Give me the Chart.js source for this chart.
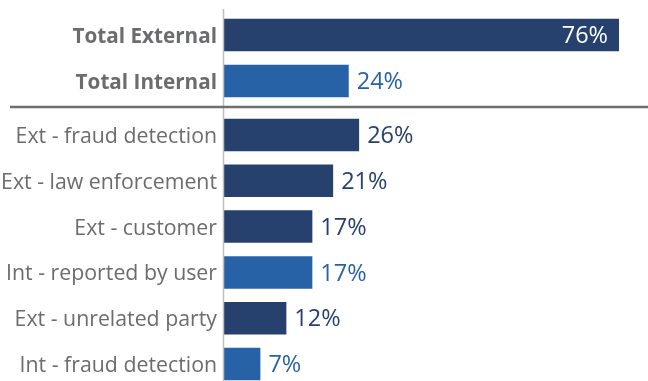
<!DOCTYPE html>
<html>
<head>
<meta charset="utf-8">
<script src="https://cdn.jsdelivr.net/npm/chart.js@4/dist/chart.umd.min.js"></script>
<style>
  html, body { margin: 0; padding: 0; background: #ffffff; overflow: hidden; }
  body { width: 648px; height: 381px; position: relative; }
  #topBox { position: absolute; left: 0; top: 0; width: 648px; height: 112px; }
  #botBox { position: absolute; left: 0; top: 112px; width: 648px; height: 275px; }
</style>
</head>
<body>
<div id="topBox"><canvas id="topChart"></canvas></div>
<div id="botBox"><canvas id="botChart"></canvas></div>
<script>
// ---- Data ----
const totalCategories = ['Total External', 'Total Internal'];
const totalValues = [76, 24];
const totalGroups = ['Ext', 'Int'];

const detailCategories = [
  'Ext - fraud detection',
  'Ext - law enforcement',
  'Ext - customer',
  'Int - reported by user',
  'Ext - unrelated party',
  'Int - fraud detection'
];
const detailValues = [26, 21, 17, 17, 12, 7];
const detailGroups = ['Ext', 'Ext', 'Ext', 'Int', 'Ext', 'Int'];

const axisMax = 80;

// ---- Styles ----
const groupColors = { Ext: '#26416D', Int: '#2762A7' };
const labelColor = '#6B6C6E';
const fontFamily = '"Open Sans", "Noto Sans", sans-serif';

const decorPlugin = {
  id: 'decor',
  afterDraw(chart, args, opts) {
    const ctx = chart.ctx;
    const x = chart.chartArea.left - 0.5;
    ctx.save();
    ctx.strokeStyle = '#BFBFBF';
    ctx.lineWidth = 1.5;
    ctx.beginPath();
    ctx.moveTo(x, opts.lineTop);
    ctx.lineTo(x, chart.height);
    ctx.stroke();
    if (opts.separatorY) {
      ctx.strokeStyle = '#6E6E6E';
      ctx.lineWidth = 2.5;
      ctx.beginPath();
      ctx.moveTo(10, opts.separatorY);
      ctx.lineTo(chart.width, opts.separatorY);
      ctx.stroke();
    }
    ctx.restore();
  }
};

const valueLabelPlugin = {
  id: 'valueLabels',
  afterDatasetsDraw(chart) {
    const ctx = chart.ctx;
    const meta = chart.getDatasetMeta(0);
    const ds = chart.data.datasets[0];
    ctx.save();
    ctx.font = '23.5px ' + fontFamily;
    ctx.textBaseline = 'middle';
    meta.data.forEach((bar, i) => {
      const v = ds.data[i];
      const txt = v + '%';
      if (v >= 50) {
        ctx.fillStyle = '#FFFFFF';
        ctx.textAlign = 'right';
        ctx.fillText(txt, bar.x - 11, bar.y + 1.5);
      } else {
        ctx.fillStyle = ds.backgroundColor[i];
        ctx.textAlign = 'left';
        ctx.fillText(txt, bar.x + 8, bar.y + 1.5);
      }
    });
    ctx.restore();
  }
};

function makeChart(id, cats, vals, groups, bold, padding, decorOpts) {
  return new Chart(document.getElementById(id), {
    type: 'bar',
    data: {
      labels: cats,
      datasets: [{
        data: vals,
        backgroundColor: groups.map(g => groupColors[g]),
        borderWidth: 0,
        categoryPercentage: 0.71,
        barPercentage: 1.0
      }]
    },
    options: {
      indexAxis: 'y',
      responsive: true,
      maintainAspectRatio: false,
      animation: false,
      layout: { padding: padding },
      plugins: {
        legend: { display: false },
        tooltip: { enabled: false },
        decor: decorOpts
      },
      scales: {
        x: {
          display: false,
          min: 0,
          max: axisMax,
          grid: { display: false }
        },
        y: {
          grid: { display: false, drawTicks: true, tickLength: 7 },
          border: { display: false },
          afterFit(scale) {
            scale.width = 224;
            scale.paddingTop = 0;
            scale.paddingBottom = 0;
          },
          ticks: {
            padding: 0,
            labelOffset: 2,
            color: labelColor,
            font: { family: fontFamily, size: bold ? 20.7 : 21.3, weight: bold ? 'bold' : 'normal' }
          }
        }
      }
    },
    plugins: [decorPlugin, valueLabelPlugin]
  });
}

makeChart('topChart', totalCategories, totalValues, totalGroups, true,
  { top: 12, bottom: 8, left: 0, right: 8.2 }, { lineTop: 9, separatorY: 107 });
makeChart('botChart', detailCategories, detailValues, detailGroups, false,
  { top: 0, bottom: 0, left: 0, right: 8.2 }, { lineTop: 0, separatorY: 0 });
</script>
</body>
</html>
